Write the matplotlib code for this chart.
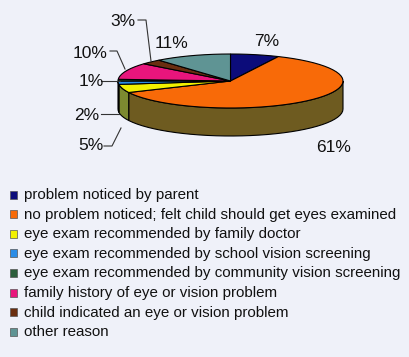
"""
3D-style pie chart: reasons for a child's eye exam, with a legend underneath.
"""
import numpy as np
import matplotlib.pyplot as plt
from matplotlib.patches import Polygon, Rectangle

categories = [
    "problem noticed by parent",
    "no problem noticed; felt child should get eyes examined",
    "eye exam recommended by family doctor",
    "eye exam recommended by school vision screening",
    "eye exam recommended by community vision screening",
    "family history of eye or vision problem",
    "child indicated an eye or vision problem",
    "other reason",
]
shares = [7, 61, 5, 2, 1, 10, 3, 11]
pct_labels = ["7%", "61%", "5%", "2%", "1%", "10%", "3%", "11%"]

top_colors = ["#0c0c7a", "#f86a08", "#f2f000", "#2a8ce6", "#2b5e3c",
              "#e8157c", "#6a2e10", "#5f9494"]
side_colors = ["#06063c", "#6e5b20", "#7c8a30", "#155080", "#163020",
               "#80104a", "#3a1808", "#355252"]

# pie geometry, in pixels of the 410x357 picture
CX, CY = 230.5, 81.0
RX, RY = 112.5, 27.0
DEPTH = 28.0

# label placement and leader paths
label_pos = {
    "7%": (267, 42), "61%": (334, 147), "5%": (91, 146), "2%": (87, 115),
    "1%": (91, 81), "10%": (90, 53), "3%": (123, 22), "11%": (172, 43),
}
leaders = {
    "5%": [(104, 146), (112, 146), (121, 128)],
    "2%": [(101, 114), (119, 114)],
    "1%": [(101, 81), (120, 81)],
    "10%": [(110, 51), (117, 51), (125, 69)],
    "3%": [(138, 20), (146, 20), (151, 61)],
}


def rim(theta_deg, drop=0.0):
    t = np.radians(theta_deg)
    return CX + RX * np.sin(t), CY - RY * np.cos(t) + drop


def arc(a0, a1, drop=0.0, n=80):
    th = np.linspace(a0, a1, max(2, int(n * (a1 - a0) / 360) + 2))
    x, y = rim(th, drop)
    return np.column_stack([x, y])


fig = plt.figure(figsize=(4.10, 3.57), dpi=100)
fig.patch.set_facecolor("#eff1f9")
ax = fig.add_axes([0, 0, 1, 1])
ax.set_xlim(0, 410)
ax.set_ylim(357, 0)
ax.axis("off")

bounds = np.concatenate([[0], np.cumsum(shares)]) / sum(shares) * 360

# sides (front half only)
for i in range(len(shares)):
    a0, a1 = max(bounds[i], 90), min(bounds[i + 1], 270)
    if a1 <= a0:
        continue
    top = arc(a0, a1)
    bottom = arc(a0, a1, DEPTH)[::-1]
    ax.add_patch(Polygon(np.vstack([top, bottom]), closed=True,
                         facecolor=side_colors[i], edgecolor="black", lw=0.8))

# top faces
for i in range(len(shares)):
    pts = np.vstack([[CX, CY], arc(bounds[i], bounds[i + 1])])
    ax.add_patch(Polygon(pts, closed=True, facecolor=top_colors[i],
                         edgecolor="black", lw=0.8))

# percentage labels
for lab in pct_labels:
    x, y = label_pos[lab]
    ax.text(x, y, lab, ha="center", va="center", fontsize=12.5,
            family="Liberation Sans", color="#111111")
for path in leaders.values():
    xs, ys = zip(*path)
    ax.plot(xs, ys, color="#333333", lw=0.8)

# legend
for i, (name, col) in enumerate(zip(categories, top_colors)):
    y = 195 + i * 19.6
    ax.add_patch(Rectangle((10, y - 4.5), 7.5, 8, facecolor=col,
                           edgecolor="#555555", lw=0.5))
    ax.text(24.5, y, name, ha="left", va="center", fontsize=10.9,
            family="Liberation Sans", color="#111111")

fig.savefig("out.png", dpi=100, facecolor=fig.get_facecolor())
